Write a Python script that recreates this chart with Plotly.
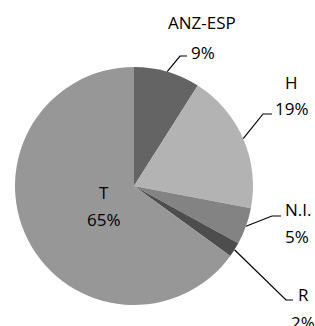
import math
import plotly.graph_objects as go

# ---- data ----
categories = ["ANZ-ESP", "H", "N.I.", "R", "T"]
values = [9, 19, 5, 2, 65]
pct_labels = ["9%", "19%", "5%", "2%", "65%"]
colors = ["#646464", "#b3b3b3", "#838383", "#4d4d4d", "#979797"]

# ---- layout constants (pixels) ----
W, H = 315, 326
CX, CY, RAD = 134, 186, 119
FONT = dict(family="Open Sans", size=17, color="#000000")

# label text centres: (name x, name y, pct x, pct y)
label_pos = {
    "ANZ-ESP": (202, 22, 203, 52),
    "H": (291, 82, 292, 108),
    "N.I.": (298, 209, 297, 236),
    "R": (303, 294, 303, 322),
    "T": (104, 192, 104, 219),
}
# leader elbows: (elbow x, elbow y, end x)
leaders = {
    "ANZ-ESP": (180, 56, 187),
    "H": (263, 114, 272),
    "N.I.": (272, 216, 281),
    "R": (286, 300, 293),
}

fig = go.Figure()
fig.add_trace(go.Pie(
    labels=categories, values=values, sort=False, direction="clockwise",
    rotation=0, marker=dict(colors=colors, line=dict(width=0)),
    textinfo="none", hoverinfo="label+percent", showlegend=False,
    domain=dict(x=[(CX - RAD) / W, (CX + RAD) / W],
                y=[(H - CY - RAD) / H, (H - CY + RAD) / H]),
))

total = sum(values)
cum = 0
annotations = []
for cat, v, p in zip(categories, values, pct_labels):
    mid = (cum + v / 2) / total * 2 * math.pi
    cum += v
    if cat in leaders:
        sx = CX + RAD * math.sin(mid)
        sy = CY - RAD * math.cos(mid)
        ex, ey, endx = leaders[cat]
        fig.add_trace(go.Scatter(x=[sx, ex, endx], y=[sy, ey, ey], mode="lines",
                                 line=dict(color="#000000", width=1.2),
                                 hoverinfo="skip", showlegend=False))
    nx, ny, px, py = label_pos[cat]
    annotations.append(dict(x=nx, y=ny, text=cat, xref="x", yref="y",
                            showarrow=False, font=FONT, xanchor="center", yanchor="middle"))
    annotations.append(dict(x=px, y=py, text=p, xref="x", yref="y",
                            showarrow=False, font=FONT, xanchor="center", yanchor="middle"))

fig.update_layout(
    width=W, height=H, margin=dict(l=0, r=0, t=0, b=0),
    paper_bgcolor="white", plot_bgcolor="rgba(0,0,0,0)",
    xaxis=dict(range=[0, W], visible=False, domain=[0, 1], fixedrange=True),
    yaxis=dict(range=[H, 0], visible=False, domain=[0, 1], fixedrange=True),
    annotations=annotations, showlegend=False,
)
fig.write_html("out.html", config={"displayModeBar": False},
               post_script="document.body.style.margin='0';document.body.style.overflow='hidden';")
